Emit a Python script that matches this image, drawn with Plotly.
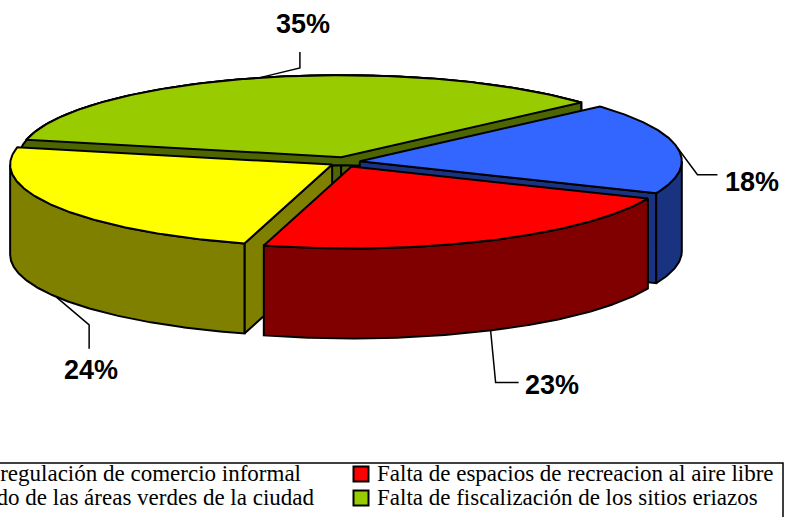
import math
import plotly.graph_objects as go

categories = ["Falta de regulación de comercio informal",
              "Falta de espacios de recreacion al aire libre",
              "Mal cuidado de las áreas verdes de la ciudad",
              "Falta de fiscalización de los sitios eriazos"]
slice_names = ["Blue", "Red", "Yellow", "Green"]
values = [18, 23, 24, 35]
labels = ["18%", "23%", "24%", "35%"]
top_colors = ["#3366FF", "#FF0000", "#FFFF00", "#99CC00"]
wall_colors = ["#1A3380", "#800000", "#808000", "#4D6600"]

W, H = 785, 517
CX, CY, A, B, DEPTH = 345, 162, 322, 82, 90
EX, EY = 15, 5
START = 41.8

def pt(c, deg, dz=0):
    r = math.radians(deg)
    return (c[0] + A * math.cos(r), c[1] - B * math.sin(r) + dz)

def arc(c, a0, a1, dz=0):
    n = max(2, int(abs(a1 - a0) * 2))
    return [pt(c, a0 + (a1 - a0) * i / n, dz) for i in range(n + 1)]

fig = go.Figure()

def poly(points, fill):
    pts = points + [points[0]]
    fig.add_trace(go.Scatter(x=[p[0] for p in pts], y=[p[1] for p in pts], mode="lines",
                             fill="toself", fillcolor=fill,
                             line=dict(color="black", width=2), hoverinfo="skip", showlegend=False))

def line(points, width=1.5):
    fig.add_trace(go.Scatter(x=[p[0] for p in points], y=[p[1] for p in points], mode="lines",
                             line=dict(color="black", width=width), hoverinfo="skip", showlegend=False))

# slice angles (clockwise from START)
spans = []
cur = START
for v in values:
    nxt = cur - v * 3.6
    spans.append((cur, nxt))
    cur = nxt

geom = {}
for i, (a0, a1) in enumerate(spans):
    mid = math.radians((a0 + a1) / 2)
    geom[i] = ((CX + EX * math.cos(mid), CY - EY * math.sin(mid)), a0, a1, (a0 + a1) / 2)

def radial(c, deg, fill):
    p = pt(c, deg)
    poly([c, p, (p[0], p[1] + DEPTH), (c[0], c[1] + DEPTH)], fill)

def outer(c, a0, a1, fill):
    # the part of the rim facing the viewer (lower half of the ellipse)
    hi = min(a0, 0) if a0 <= 180 else a0
    lo = a1
    segs = []
    # normalise to the range -360..0 for testing
    s, e = a0, a1
    while s > 0 and e > 0:
        s -= 360
        e -= 360
    s = min(s, 0) if e < 0 else s
    if s > 0:
        return
    e = max(e, -180) if s > -180 else e
    if s - e <= 0:
        return
    poly(arc(c, s, e) + arc(c, e, s, DEPTH), fill)

# Green (back)
c, a0, a1, _ = geom[3]
radial(c, a0, wall_colors[3])
radial(c, a1 + 360, wall_colors[3])
outer(c, a0 + 360 - 360, a1, wall_colors[3])
# green left rim between its end and 180 deg
poly(arc(c, a1 + 360, 180) + arc(c, 180, a1 + 360, DEPTH), wall_colors[3])
poly([c] + arc(c, a0 + 360 if a0 < -180 else a0, a1 + 360), top_colors[3])

# Blue
c, a0, a1, _ = geom[0]
radial(c, a1, wall_colors[0])
outer(c, a0, a1, wall_colors[0])
poly([c] + arc(c, a0, a1), top_colors[0])

# Yellow
c, a0, a1, _ = geom[2]
radial(c, a0, wall_colors[2])
outer(c, a0, a1, wall_colors[2])
poly([c] + arc(c, a0, a1), top_colors[2])

# Red
c, a0, a1, _ = geom[1]
outer(c, a0, a1, wall_colors[1])
poly([c] + arc(c, a0, a1), top_colors[1])

# Leader lines and percent labels
ann = []
leader_info = {
    0: (0, [(20, 27), (40, 27)], (752, 182)),
    1: (DEPTH, [(5, 52), (28, 52)], (552, 385)),
    2: (DEPTH, [(33, 28), (33, 52)], (91, 370)),
    3: (0, [(41, -10), (41, -26)], (303, 24)),
}
for i, (dz, elbows, txt) in leader_info.items():
    c, _, _, m = geom[i]
    s = pt(c, m, dz)
    line([s] + [(s[0] + dx, s[1] + dy) for dx, dy in elbows])
    ann.append(dict(x=txt[0], y=txt[1], text=f"<b>{labels[i]}</b>", showarrow=False,
                    xanchor="center", yanchor="middle",
                    font=dict(family="Liberation Sans", size=27, color="black")))

# Legend frame
line([(-5, 463), (783, 463), (783, 522)], 1.5)

legend_rows = [
    (categories[0], "right", 303, 473, None),
    (categories[2], "right", 316, 497, None),
    (categories[1], "left", 375, 473, top_colors[1]),
    (categories[3], "left", 375, 497, top_colors[3]),
]
for text, anchor, x, y, col in legend_rows:
    ann.append(dict(x=x, y=y, text=text, showarrow=False, xanchor=anchor, yanchor="middle",
                    font=dict(family="Liberation Sans Narrow", size=23, color="black")))
    if col:
        fig.add_trace(go.Scatter(x=[361], y=[y + 1], mode="markers", hoverinfo="skip", showlegend=False,
                                 marker=dict(symbol="square", size=15, color=col,
                                             line=dict(color="black", width=2))))

fig.update_layout(
    width=W, height=H, margin=dict(l=0, r=0, t=0, b=0),
    paper_bgcolor="white", plot_bgcolor="white", showlegend=False, annotations=ann,
    xaxis=dict(range=[0, W], visible=False, fixedrange=True),
    yaxis=dict(range=[H, 0], visible=False, fixedrange=True),
)
fig.write_html("out.html", config={"displayModeBar": False},
               post_script="document.body.style.margin='0';document.body.style.overflow='hidden';")
